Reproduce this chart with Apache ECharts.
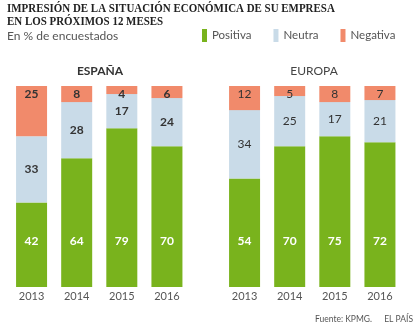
<!DOCTYPE html>
<html>
<head>
<meta charset="utf-8">
<script src="https://cdn.jsdelivr.net/npm/echarts@6/dist/echarts.min.js"></script>
<style>
  html, body { margin: 0; padding: 0; background: #fff; }
  #chart { width: 414px; height: 327px; }
</style>
</head>
<body>
<div id="chart"></div>
<script>
// Survey: outlook on the company's economic situation over the next 12 months (% of respondents)
const years = ['2013', '2014', '2015', '2016'];

const espanaPositiva = [42, 64, 79, 70];
const espanaNeutra   = [33, 28, 17, 24];
const espanaNegativa = [25, 8, 4, 6];

const europaPositiva = [54, 70, 75, 72];
const europaNeutra   = [34, 25, 17, 21];
const europaNegativa = [12, 5, 8, 7];

const GREEN = '#79b31d';
const BLUE = '#c9dbe8';
const SALMON = '#f18a6b';
const FONT = 'Lato, sans-serif';

const chart = echarts.init(document.getElementById('chart'), null, { renderer: 'canvas' });

function stackSeries(idx, stack, pos, neu, neg, bold) {
  const darkLabel = {
    show: true,
    color: '#333',
    fontFamily: FONT,
    fontSize: 12,
    fontWeight: bold ? 'bold' : 'normal'
  };
  return [
    {
      name: 'Positiva', type: 'bar', stack, xAxisIndex: idx, yAxisIndex: idx,
      data: pos, barWidth: 31, itemStyle: { color: GREEN },
      label: { show: true, position: 'insideBottom', distance: 40, color: '#fff',
               fontFamily: FONT, fontSize: 12, fontWeight: 'bold' }
    },
    {
      name: 'Neutra', type: 'bar', stack, xAxisIndex: idx, yAxisIndex: idx,
      data: neu, barWidth: 31, itemStyle: { color: BLUE },
      label: Object.assign({ position: 'inside' }, darkLabel)
    },
    {
      name: 'Negativa', type: 'bar', stack, xAxisIndex: idx, yAxisIndex: idx,
      data: neg, barWidth: 31, itemStyle: { color: SALMON },
      label: Object.assign({ position: 'insideTop', distance: 2 }, darkLabel)
    }
  ];
}

const xAxisBase = {
  type: 'category',
  data: years,
  axisLine: { show: false },
  axisTick: { show: false },
  axisLabel: { color: '#555', fontFamily: FONT, fontSize: 11, margin: 4 }
};
const yAxisBase = { type: 'value', min: 0, max: 100, show: false };

chart.setOption({
  animation: false,
  backgroundColor: '#fff',
  legend: {
    data: ['Positiva', 'Neutra', 'Negativa'],
    left: 202, top: 29, padding: 0,
    itemWidth: 5, itemHeight: 13, itemGap: 22,
    icon: 'rect',
    textStyle: { color: '#555', fontFamily: FONT, fontSize: 11.5 },
    selectedMode: false
  },
  grid: [
    { left: 9, width: 180.5, top: 86, bottom: 40 },
    { left: 222, width: 180.5, top: 86, bottom: 40 }
  ],
  xAxis: [
    Object.assign({ gridIndex: 0 }, xAxisBase),
    Object.assign({ gridIndex: 1 }, xAxisBase)
  ],
  yAxis: [
    Object.assign({ gridIndex: 0 }, yAxisBase),
    Object.assign({ gridIndex: 1 }, yAxisBase)
  ],
  series: [].concat(
    stackSeries(0, 'es', espanaPositiva, espanaNeutra, espanaNegativa, true),
    stackSeries(1, 'eu', europaPositiva, europaNeutra, europaNegativa, false)
  ),
  graphic: [
    {
      type: 'text', left: 7, top: 2, scaleX: 0.81,
      style: { text: 'IMPRESIÓN DE LA SITUACIÓN ECONÓMICA DE SU EMPRESA',
               fill: '#222', font: 'bold 13.5px "Liberation Serif", serif' }
    },
    {
      type: 'text', left: 7, top: 15, scaleX: 0.81,
      style: { text: 'EN LOS PRÓXIMOS 12 MESES',
               fill: '#222', font: 'bold 13.5px "Liberation Serif", serif' }
    },
    {
      type: 'text', left: 7, top: 30,
      style: { text: 'En % de encuestados', fill: '#555', font: '12px Lato, sans-serif' }
    },
    {
      type: 'text', x: 100, y: 71,
      style: { text: 'ESPAÑA', fill: '#333', font: 'bold 12px Lato, sans-serif',
               textAlign: 'center', textVerticalAlign: 'middle' }
    },
    {
      type: 'text', x: 314, y: 71,
      style: { text: 'EUROPA', fill: '#444', font: '12px Lato, sans-serif',
               textAlign: 'center', textVerticalAlign: 'middle' }
    },
    {
      type: 'text', x: 315, y: 319,
      style: { text: 'Fuente: KPMG.', fill: '#555', font: '8.5px Lato, sans-serif',
               textVerticalAlign: 'middle' }
    },
    {
      type: 'text', x: 413, y: 319,
      style: { text: 'EL PAÍS', fill: '#555', font: '8.5px Lato, sans-serif',
               textAlign: 'right', textVerticalAlign: 'middle' }
    }
  ]
});
</script>
</body>
</html>
